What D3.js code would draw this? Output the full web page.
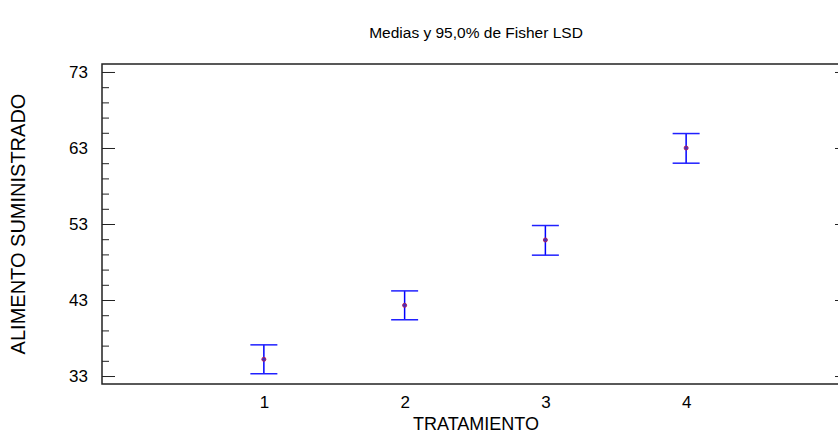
<!DOCTYPE html>
<html>
<head>
<meta charset="utf-8">
<script src="https://cdn.jsdelivr.net/npm/d3@7"></script>
<style>
  body { margin: 0; background: #fff; }
  svg text { font-family: "Liberation Sans", Arial, sans-serif; fill: #000; }
</style>
</head>
<body>
<div id="chart"></div>
<script>
// Data
const groups = [1, 2, 3, 4];
const means = [35.2, 42.3, 50.9, 63.0];
const lower = [33.3, 40.4, 48.9, 61.0];
const upper = [37.1, 44.2, 52.8, 64.9];
const yMajorTicks = [33, 43, 53, 63, 73];
const yMinorTicks = d3.range(35, 73, 2).filter(v => !yMajorTicks.includes(v));

const width = 838, height = 441;
const margin = { top: 64, right: -10, bottom: 57, left: 102 };
const innerW = width - margin.left - margin.right;
const innerH = height - margin.top - margin.bottom;

const svg = d3.select("#chart").append("svg")
  .attr("width", width)
  .attr("height", height);

const xScale = d3.scaleLinear()
  .domain([-0.15, 5.15])
  .range([0, innerW]);

const yScale = d3.scaleLinear()
  .domain([31.95, 74.05])
  .range([innerH, 0]);

const g = svg.append("g")
  .attr("transform", "translate(" + margin.left + "," + margin.top + ")");

// Title
svg.append("text")
  .attr("x", 476)
  .attr("y", 38)
  .attr("text-anchor", "middle")
  .style("font-size", "15.5px")
  .text("Medias y 95,0% de Fisher LSD");

// Left axis: major ticks with labels, minor ticks without
const yAxisLeft = d3.axisLeft(yScale)
  .tickValues(yMajorTicks)
  .tickSize(-13)
  .tickPadding(14)
  .tickFormat(d3.format("d"));
g.append("g")
  .attr("class", "y axis left")
  .call(yAxisLeft)
  .call(s => s.select(".domain").remove())
  .call(s => s.selectAll("line").attr("stroke", "#222"))
  .call(s => s.selectAll("text").style("font-size", "17px"));

g.append("g")
  .attr("class", "y axis minor")
  .call(d3.axisLeft(yScale).tickValues(yMinorTicks).tickSize(-7).tickFormat(""))
  .call(s => s.select(".domain").remove())
  .call(s => s.selectAll("line").attr("stroke", "#222"));

// Right axis: inward ticks only
g.append("g")
  .attr("class", "y axis right")
  .attr("transform", "translate(" + innerW + ",0)")
  .call(d3.axisRight(yScale).tickValues(yMajorTicks).tickSize(-13).tickFormat(""))
  .call(s => s.select(".domain").remove())
  .call(s => s.selectAll("line").attr("stroke", "#222"));

// Bottom axis labels
const xAxis = d3.axisBottom(xScale)
  .tickValues(groups)
  .tickSize(0)
  .tickPadding(12)
  .tickFormat(d3.format("d"));
g.append("g")
  .attr("class", "x axis bottom")
  .attr("transform", "translate(0," + innerH + ")")
  .call(xAxis)
  .call(s => s.select(".domain").remove())
  .call(s => s.selectAll("text").style("font-size", "17px"));

// Frame
g.append("rect")
  .attr("x", 0)
  .attr("y", 0)
  .attr("width", innerW)
  .attr("height", innerH)
  .attr("fill", "none")
  .attr("stroke", "#222")
  .attr("stroke-width", 1.5);

// Axis titles
svg.append("text")
  .attr("x", 476)
  .attr("y", 430)
  .attr("text-anchor", "middle")
  .style("font-size", "18px")
  .text("TRATAMIENTO");

svg.append("text")
  .attr("transform", "translate(25," + 224 + ") rotate(-90)")
  .attr("text-anchor", "middle")
  .style("font-size", "20px")
  .text("ALIMENTO SUMINISTRADO");

// Error bars
const capHalf = 13.5;
const bars = g.selectAll(".errbar")
  .data(groups)
  .enter()
  .append("g")
  .attr("class", "errbar");

bars.append("line")
  .attr("x1", d => xScale(d))
  .attr("x2", d => xScale(d))
  .attr("y1", (d, i) => yScale(upper[i]))
  .attr("y2", (d, i) => yScale(lower[i]))
  .attr("stroke", "#0000ff")
  .attr("stroke-width", 1.5);

bars.append("line")
  .attr("x1", d => xScale(d) - capHalf)
  .attr("x2", d => xScale(d) + capHalf)
  .attr("y1", (d, i) => yScale(upper[i]))
  .attr("y2", (d, i) => yScale(upper[i]))
  .attr("stroke", "#2020ff")
  .attr("stroke-width", 1.5);

bars.append("line")
  .attr("x1", d => xScale(d) - capHalf)
  .attr("x2", d => xScale(d) + capHalf)
  .attr("y1", (d, i) => yScale(lower[i]))
  .attr("y2", (d, i) => yScale(lower[i]))
  .attr("stroke", "#2020ff")
  .attr("stroke-width", 1.5);

// Means
bars.append("circle")
  .attr("cx", d => xScale(d))
  .attr("cy", (d, i) => yScale(means[i]))
  .attr("r", 2)
  .attr("fill", "#4030c0")
  .attr("stroke", "#b02060")
  .attr("stroke-width", 1);
</script>
</body>
</html>
